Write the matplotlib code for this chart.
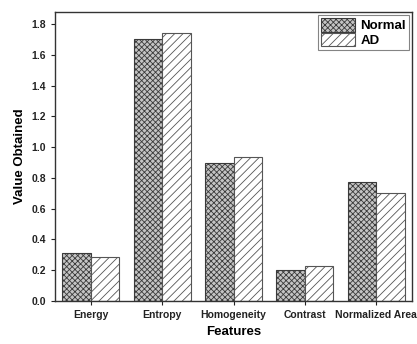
import matplotlib
matplotlib.use("Agg")
import matplotlib.pyplot as plt
import numpy as np

plt.rcParams['font.family'] = ['Liberation Sans', 'DejaVu Sans']
plt.rcParams['hatch.linewidth'] = 0.6

categories = ["Energy", "Entropy", "Homogeneity", "Contrast", "Normalized Area"]
normal = [0.31, 1.70, 0.90, 0.20, 0.773]
ad = [0.286, 1.74, 0.935, 0.225, 0.704]
yticks = [0.0, 0.2, 0.4, 0.6, 0.8, 1.0, 1.2, 1.4, 1.6, 1.8]

fig = plt.figure(figsize=(4.17, 3.44), dpi=100)
ax = fig.add_axes([0.132, 0.125, 0.856, 0.84])

x = np.arange(1, len(categories) + 1)
w = 0.4
ax.bar(x - w/2, normal, w, facecolor='#c4c4c4', edgecolor='#3a3a3a', hatch='xxxxxx', linewidth=0.8, label='Normal')
ax.bar(x + w/2, ad, w, facecolor='white', edgecolor='#555555', hatch='////', linewidth=0.8, label='AD')

ax.set_xlim(0.5, 5.5)
ax.set_ylim(0, 1.878)
ax.set_xticks(x)
ax.set_xticklabels(categories, fontsize=7.5, fontweight='bold', color='#222222')
ax.set_yticks(yticks)
ax.set_yticklabels([f"{v:.1f}" for v in yticks], fontsize=7.5, fontweight='bold', color='#222222')
ax.tick_params(direction='out', length=3, width=0.8, colors='#222222')
for s in ax.spines.values():
    s.set_linewidth(1.0)
    s.set_color('#333333')
ax.set_xlabel("Features", fontsize=9.5, fontweight='bold', labelpad=4)
ax.set_ylabel("Value Obtained", fontsize=9.5, fontweight='bold', labelpad=4)
leg = ax.legend(loc='upper right', prop={'weight': 'bold', 'size': 9.5},
                fancybox=False, edgecolor='#666666', handlelength=2.6, handleheight=1.2,
                borderpad=0.25, labelspacing=0.05, handletextpad=0.4, borderaxespad=0.2)
leg.get_frame().set_linewidth(0.8)

fig.savefig("out.png", dpi=100)
